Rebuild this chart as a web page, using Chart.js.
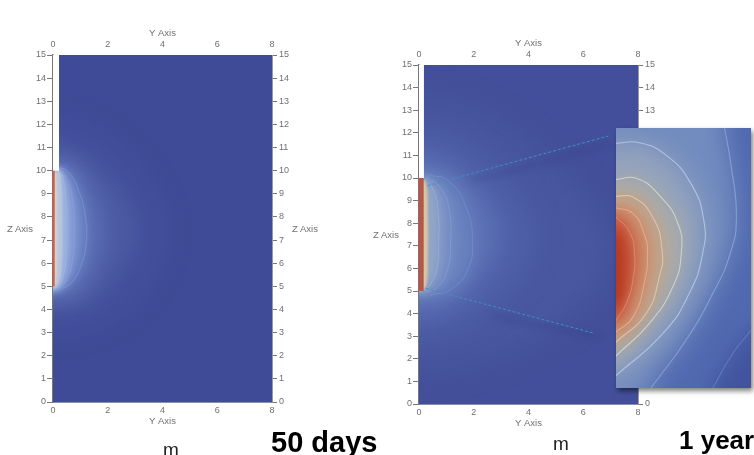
<!DOCTYPE html>
<html>
<head>
<meta charset="utf-8">
<script src="https://cdn.jsdelivr.net/npm/chart.js@4"></script>
<style>
  html, body { margin: 0; width: 754px; height: 455px; overflow: hidden; background: #fff; }
  canvas { position: absolute; top: 0; filter: blur(0.6px); }
  #inset { left: 616px; top: 128px; filter: blur(0.4px); box-shadow: 2px 3px 5px rgba(0,0,0,0.5); }
  .t { position: absolute; font-family: "Liberation Sans", Arial, sans-serif; white-space: nowrap; filter: blur(0.35px); }
  .axis { font-size: 9.5px; color: #707070; transform: translate(-50%, -50%); }
  .cap { color: #000; font-weight: bold; }
  .unit { color: #222; font-size: 19px; transform: translateX(-50%); }
</style>
</head>
<body>
<canvas id="left" width="330" height="440" style="left:0"></canvas>
<canvas id="right" width="384" height="440" style="left:370px"></canvas>
<canvas id="inset" width="135" height="260"></canvas>
<div class="t axis" style="left:20px;top:228px">Z Axis</div>
<div class="t axis" style="left:305px;top:228px">Z Axis</div>
<div class="t axis" style="left:386px;top:234px">Z Axis</div>
<div class="t unit" style="left:171px;top:439px">m</div>
<div class="t unit" style="left:561px;top:433px">m</div>
<div class="t cap" style="left:271px;top:426px;font-size:29px">50 days</div>
<div class="t cap" style="left:679px;top:425px;font-size:26px">1 year</div>
<script>
const yTicks = [0, 2, 4, 6, 8];
const zTicks = [0, 1, 2, 3, 4, 5, 6, 7, 8, 9, 10, 11, 12, 13, 14, 15];

// 50 days panel, points are [Y, Z]
const leftL1 = [[0.2,10.15],[0.55,9.95],[0.95,9.1],[1.18,8],[1.22,7],[1.05,6],[0.7,5.2],[0.25,4.85]];
const leftL2 = [[0.2,10.05],[0.5,9.6],[0.72,8.7],[0.78,7.5],[0.72,6.2],[0.5,5.3],[0.15,4.85]];
const leftL3 = [[0.2,10],[0.38,9.6],[0.48,8.6],[0.5,7.5],[0.47,6.2],[0.33,5.3],[0.1,4.9]];
const leftL4 = [[0.2,10],[0.26,9.5],[0.29,8.5],[0.3,7.5],[0.29,6.2],[0.22,5.3],[0.08,4.95]];
const leftGlow1 = [[0,12.4],[1,12.1],[2.4,11.1],[3.6,9.5],[4.2,7.5],[3.7,5.3],[2.6,3.8],[1,3],[0,2.8]];
const leftGlow2 = [[0,11.2],[0.9,10.9],[1.9,9.9],[2.7,8.6],[3,7.3],[2.6,6],[1.7,4.6],[0.8,4],[0,3.9]];
const leftGlow3 = [[0,10.6],[0.8,10.3],[1.4,9.4],[1.85,8],[1.9,7],[1.65,5.9],[1.1,4.8],[0.4,4.4],[0,4.4]];
const leftCore = [[0,10],[0.12,9.7],[0.14,8],[0.14,6.5],[0.12,5.2],[0,5]];
const leftNotch = [[-0.5,10],[0.22,10],[0.22,15.5],[-0.5,15.5]];
const leftSource = [[0.03,5],[0.03,10]];

// 1 year panel
const rightL1 = [[0.2,9.95],[0.55,9.4],[0.7,8.5],[0.72,7.2],[0.65,6],[0.42,5.3],[0.2,5]];
const rightL2 = [[0.25,10.02],[0.75,9.6],[1.1,8.6],[1.15,7],[1.05,6],[0.7,5.2],[0.25,4.95]];
const rightL3 = [[0.3,10.15],[1.1,9.85],[1.75,8.6],[1.95,7.2],[1.8,6],[1.2,5.1],[0.4,4.8]];
const rightGlow1 = [[0,13.5],[2,13],[4.5,11],[6.5,8.5],[7,7],[6.5,5],[4.5,3],[2,1.8],[0,1.5]];
const rightGlow2 = [[0,12],[1.5,11.5],[3.2,9.8],[4.2,7.5],[3.3,5],[1.5,3.5],[0,3]];
const rightGlow3 = [[0,11],[1,10.6],[2.2,9.4],[2.9,7.5],[2.2,5.5],[1,4.3],[0,4]];
const rightTan = [[0,10],[0.25,9.8],[0.32,8.5],[0.32,6.5],[0.25,5.2],[0,5]];
const rightNotch = [[-0.5,10],[0.18,10],[0.18,15.5],[-0.5,15.5]];
const rightSource = [[0.08,5],[0.08,10]];
const zoomUpper = [[0.32,9.66],[6.92,11.86]];
const zoomLower = [[0.24,5.12],[6.37,3.14]];
const shadowUpper = [[1.9,9.9],[3.07,10.2],[6.97,11.5]];
const shadowLower = [[2.6,3.95],[3.6,3.65],[6.6,2.98]];

// zoomed inset
const c1 = [[0,8.13],[0.24,7.86],[0.33,7.48],[0.3,7],[0.18,6.59],[0,6.29]];
const c2 = [[0,8.29],[0.3,8.19],[0.5,7.83],[0.56,7.48],[0.5,6.94],[0.3,6.35],[0,6.09]];
const c3 = [[0,8.49],[0.3,8.48],[0.65,8.13],[0.82,7.54],[0.77,7.06],[0.53,6.41],[0,5.91]];
const c4 = [[0,8.79],[0.36,8.81],[0.77,8.51],[1.1,8.01],[1.16,7.48],[1.01,6.89],[0.59,6.24],[0,5.67]];
const c5 = [[0,9.43],[0.41,9.44],[0.89,9.22],[1.33,8.72],[1.56,8.07],[1.54,7.48],[1.3,6.77],[0.83,6.06],[0,5.32]];
const c6 = [[1.93,9.7],[2.04,9.07],[2.14,8.13],[2.03,7.48],[1.72,6.77],[1.24,5.94],[0.62,5.1]];
const c7 = [[2.4,6.12],[2.07,5.7],[1.72,5.1]];
const insetCore = [[0,7.85],[0.11,7.6],[0.13,7.1],[0.1,6.75],[0,6.55]];
const insetBase = [[-1,4],[3,4],[3,11],[-1,11]];

const AXIS = '#777';
const LABEL = '#707070';
const FONT = '"Liberation Sans", Arial, sans-serif';

// fills close round the far side of the Y=0 edge, so blur does not fade there
const closed = pts => [[-1, pts[0][1]], ...pts, [-1, pts[pts.length - 1][1]]];

function fillSet(data, color, soft, tension = 0.4) {
  return { data, backgroundColor: color, borderWidth: 0, fill: 'shape', showLine: true, pointRadius: 0, tension, capBezierPoints: false, soft };
}
function lineSet(data, color, width, extra = {}) {
  return { data, borderColor: color, borderWidth: width, fill: false, showLine: true, pointRadius: 0, tension: 0.5, capBezierPoints: false, soft: 0.5, ...extra };
}

// blurs the datasets that ask for it. Datasets draw last to first, filler runs
// ahead of any inline beforeDatasetDraw, so set it up at the end of the previous one
const softFill = {
  id: 'softFill',
  setFor(chart, i) {
    const ds = chart.data.datasets[i];
    chart.ctx.filter = ds && ds.soft ? 'blur(' + ds.soft + 'px)' : 'none';
  },
  beforeDatasetsDraw(chart) { this.setFor(chart, chart.data.datasets.length - 1); },
  afterDatasetDraw(chart, args) { this.setFor(chart, args.index - 1); },
  afterDatasetsDraw(chart) { chart.ctx.filter = 'none'; }
};

function axes(box) {
  const hAxis = (position, size, padding, labelPad, tickColor, borderColor) => ({
    type: 'linear', position, min: 0, max: 8,
    afterBuildTicks: s => { s.ticks = yTicks.map(value => ({ value })); },
    afterFit: s => { s.height = size; },
    ticks: { color: LABEL, font: { size: 9, family: FONT }, padding: labelPad, maxRotation: 0 },
    grid: { drawOnChartArea: false, tickLength: -5, color: tickColor },
    border: { color: borderColor, width: 1 },
    title: { display: true, text: 'Y Axis', color: LABEL, font: { size: 9.5, family: FONT }, padding }
  });
  const vAxis = (position, size, tickLength, padding, borderColor, borderWidth) => ({
    type: 'linear', position, min: 0, max: 15,
    afterBuildTicks: s => { s.ticks = zTicks.map(value => ({ value })); },
    afterFit: s => { s.width = size; },
    ticks: { color: LABEL, font: { size: 9, family: FONT }, padding },
    grid: { drawOnChartArea: false, tickLength, color: AXIS },
    border: { color: borderColor, width: borderWidth }
  });
  return {
    x: hAxis('bottom', box.bottom, { top: 0, bottom: box.titleBottom }, 8, '#5c669c', '#8a8fa8'),
    xTop: hAxis('top', box.top, { top: box.titleTop, bottom: 0 }, 10, '#777', '#444'),
    y: vAxis('left', box.left, 6, 1, '#777', 1.5),
    yRight: vAxis('right', box.right, 5, 2, '#999', 1)
  };
}

function panel(id, box, datasets) {
  new Chart(document.getElementById(id), {
    type: 'scatter',
    data: { datasets },
    options: {
      responsive: false, animation: false, devicePixelRatio: 1,
      layout: { padding: 0 },
      plugins: { legend: { display: false }, tooltip: { enabled: false } },
      scales: axes(box)
    },
    plugins: [softFill]
  });
}

const domain = [[0,0],[8,0],[8,15],[0,15]];

panel('left', { left: 53, right: 58, top: 55, bottom: 38, titleTop: 28, titleBottom: 13 }, [
  lineSet(leftSource, '#dd5a48', 1.8, { clip: 3, tension: 0, soft: 0 }),
  fillSet(leftNotch, '#fff', 0, 0),
  lineSet(leftL4, 'rgba(199,211,234,0.6)', 0.8),
  lineSet(leftL3, 'rgba(169,189,230,0.6)', 0.8),
  lineSet(leftL2, 'rgba(143,168,224,0.6)', 0.8),
  lineSet(leftL1, 'rgba(127,155,224,0.7)', 0.9),
  fillSet(closed(leftCore), '#d8d0c4', 1),
  fillSet(closed(leftL4), '#bfc9dc', 2),
  fillSet(closed(leftL3), '#a3b6e0', 3),
  fillSet(closed(leftL2), '#8ba1d8', 4),
  fillSet(closed(leftL1), '#7289c8', 6),
  fillSet(closed(leftGlow3), '#5a6cb2', 8),
  fillSet(closed(leftGlow2), '#4c5ba3', 9),
  fillSet(closed(leftGlow1), '#434f9b', 10),
  fillSet(domain, '#3f4b96', 0, 0)
]);

panel('right', { left: 49, right: 116, top: 65, bottom: 36, titleTop: 38, titleBottom: 11 }, [
  lineSet(rightSource, '#b5564a', 5, { clip: 5, tension: 0, soft: 0 }),
  fillSet(rightNotch, '#fff', 0, 0),
  lineSet(zoomUpper, '#3f8fc4', 1, { borderDash: [3, 2], tension: 0, soft: 0 }),
  lineSet(zoomLower, '#3f8fc4', 1, { borderDash: [3, 2], tension: 0, soft: 0 }),
  lineSet(shadowUpper, 'rgba(30,38,90,0.22)', 3, { soft: 3, tension: 0 }),
  lineSet(shadowLower, 'rgba(30,38,90,0.22)', 3, { soft: 3, tension: 0 }),
  lineSet(rightL1, 'rgba(164,184,222,0.6)', 0.9),
  lineSet(rightL2, 'rgba(142,166,220,0.6)', 0.9),
  lineSet(rightL3, 'rgba(125,151,216,0.6)', 0.9),
  fillSet(closed(rightTan), '#d8c6a0', 1),
  fillSet(closed(rightL1), '#93a5c8', 4),
  fillSet(closed(rightL2), '#7d94c6', 6),
  fillSet(closed(rightL3), '#6b84c0', 8),
  fillSet(closed(rightGlow3), '#5d71b4', 10),
  fillSet(closed(rightGlow2), '#4f60a8', 12),
  fillSet(closed(rightGlow1), '#48579f', 14),
  fillSet(domain, '#434f9a', 0, 0)
]);

new Chart(document.getElementById('inset'), {
  type: 'scatter',
  data: { datasets: [
    lineSet(c1, 'rgba(233,143,112,0.8)', 1),
    lineSet(c2, 'rgba(238,174,144,0.8)', 1.1),
    lineSet(c3, 'rgba(238,201,168,0.8)', 1.1),
    lineSet(c4, 'rgba(223,220,201,0.8)', 1.1),
    lineSet(c5, 'rgba(188,205,232,0.8)', 1.1),
    lineSet(c6, 'rgba(143,168,220,0.8)', 1.1),
    lineSet(c7, 'rgba(111,143,208,0.7)', 1),
    fillSet(closed(insetCore), '#b5361f', 6),
    fillSet(closed(c1), '#c55239', 6),
    fillSet(closed(c2), '#cd8161', 7),
    fillSet(closed(c3), '#c69f80', 8),
    fillSet(closed(c4), '#aeaca5', 10),
    fillSet(closed(c5), '#93a3bd', 12),
    fillSet([[-1,11],[1.9,11],...c6,[0.4,4],[-1,4]], '#738cbf', 12),
    fillSet([[-1,11],[3,11],[3,6.5],...c7,[1.4,4],[-1,4]], '#506ab0', 12),
    fillSet(insetBase, '#42549f', 0, 0)
  ] },
  options: {
    responsive: false, animation: false, devicePixelRatio: 1,
    layout: { padding: 0 },
    plugins: { legend: { display: false }, tooltip: { enabled: false } },
    scales: {
      x: { type: 'linear', display: false, min: 0, max: 2.4 },
      y: { type: 'linear', display: false, min: 5.1, max: 9.7 }
    }
  },
  plugins: [softFill]
});
</script>
</body>
</html>
